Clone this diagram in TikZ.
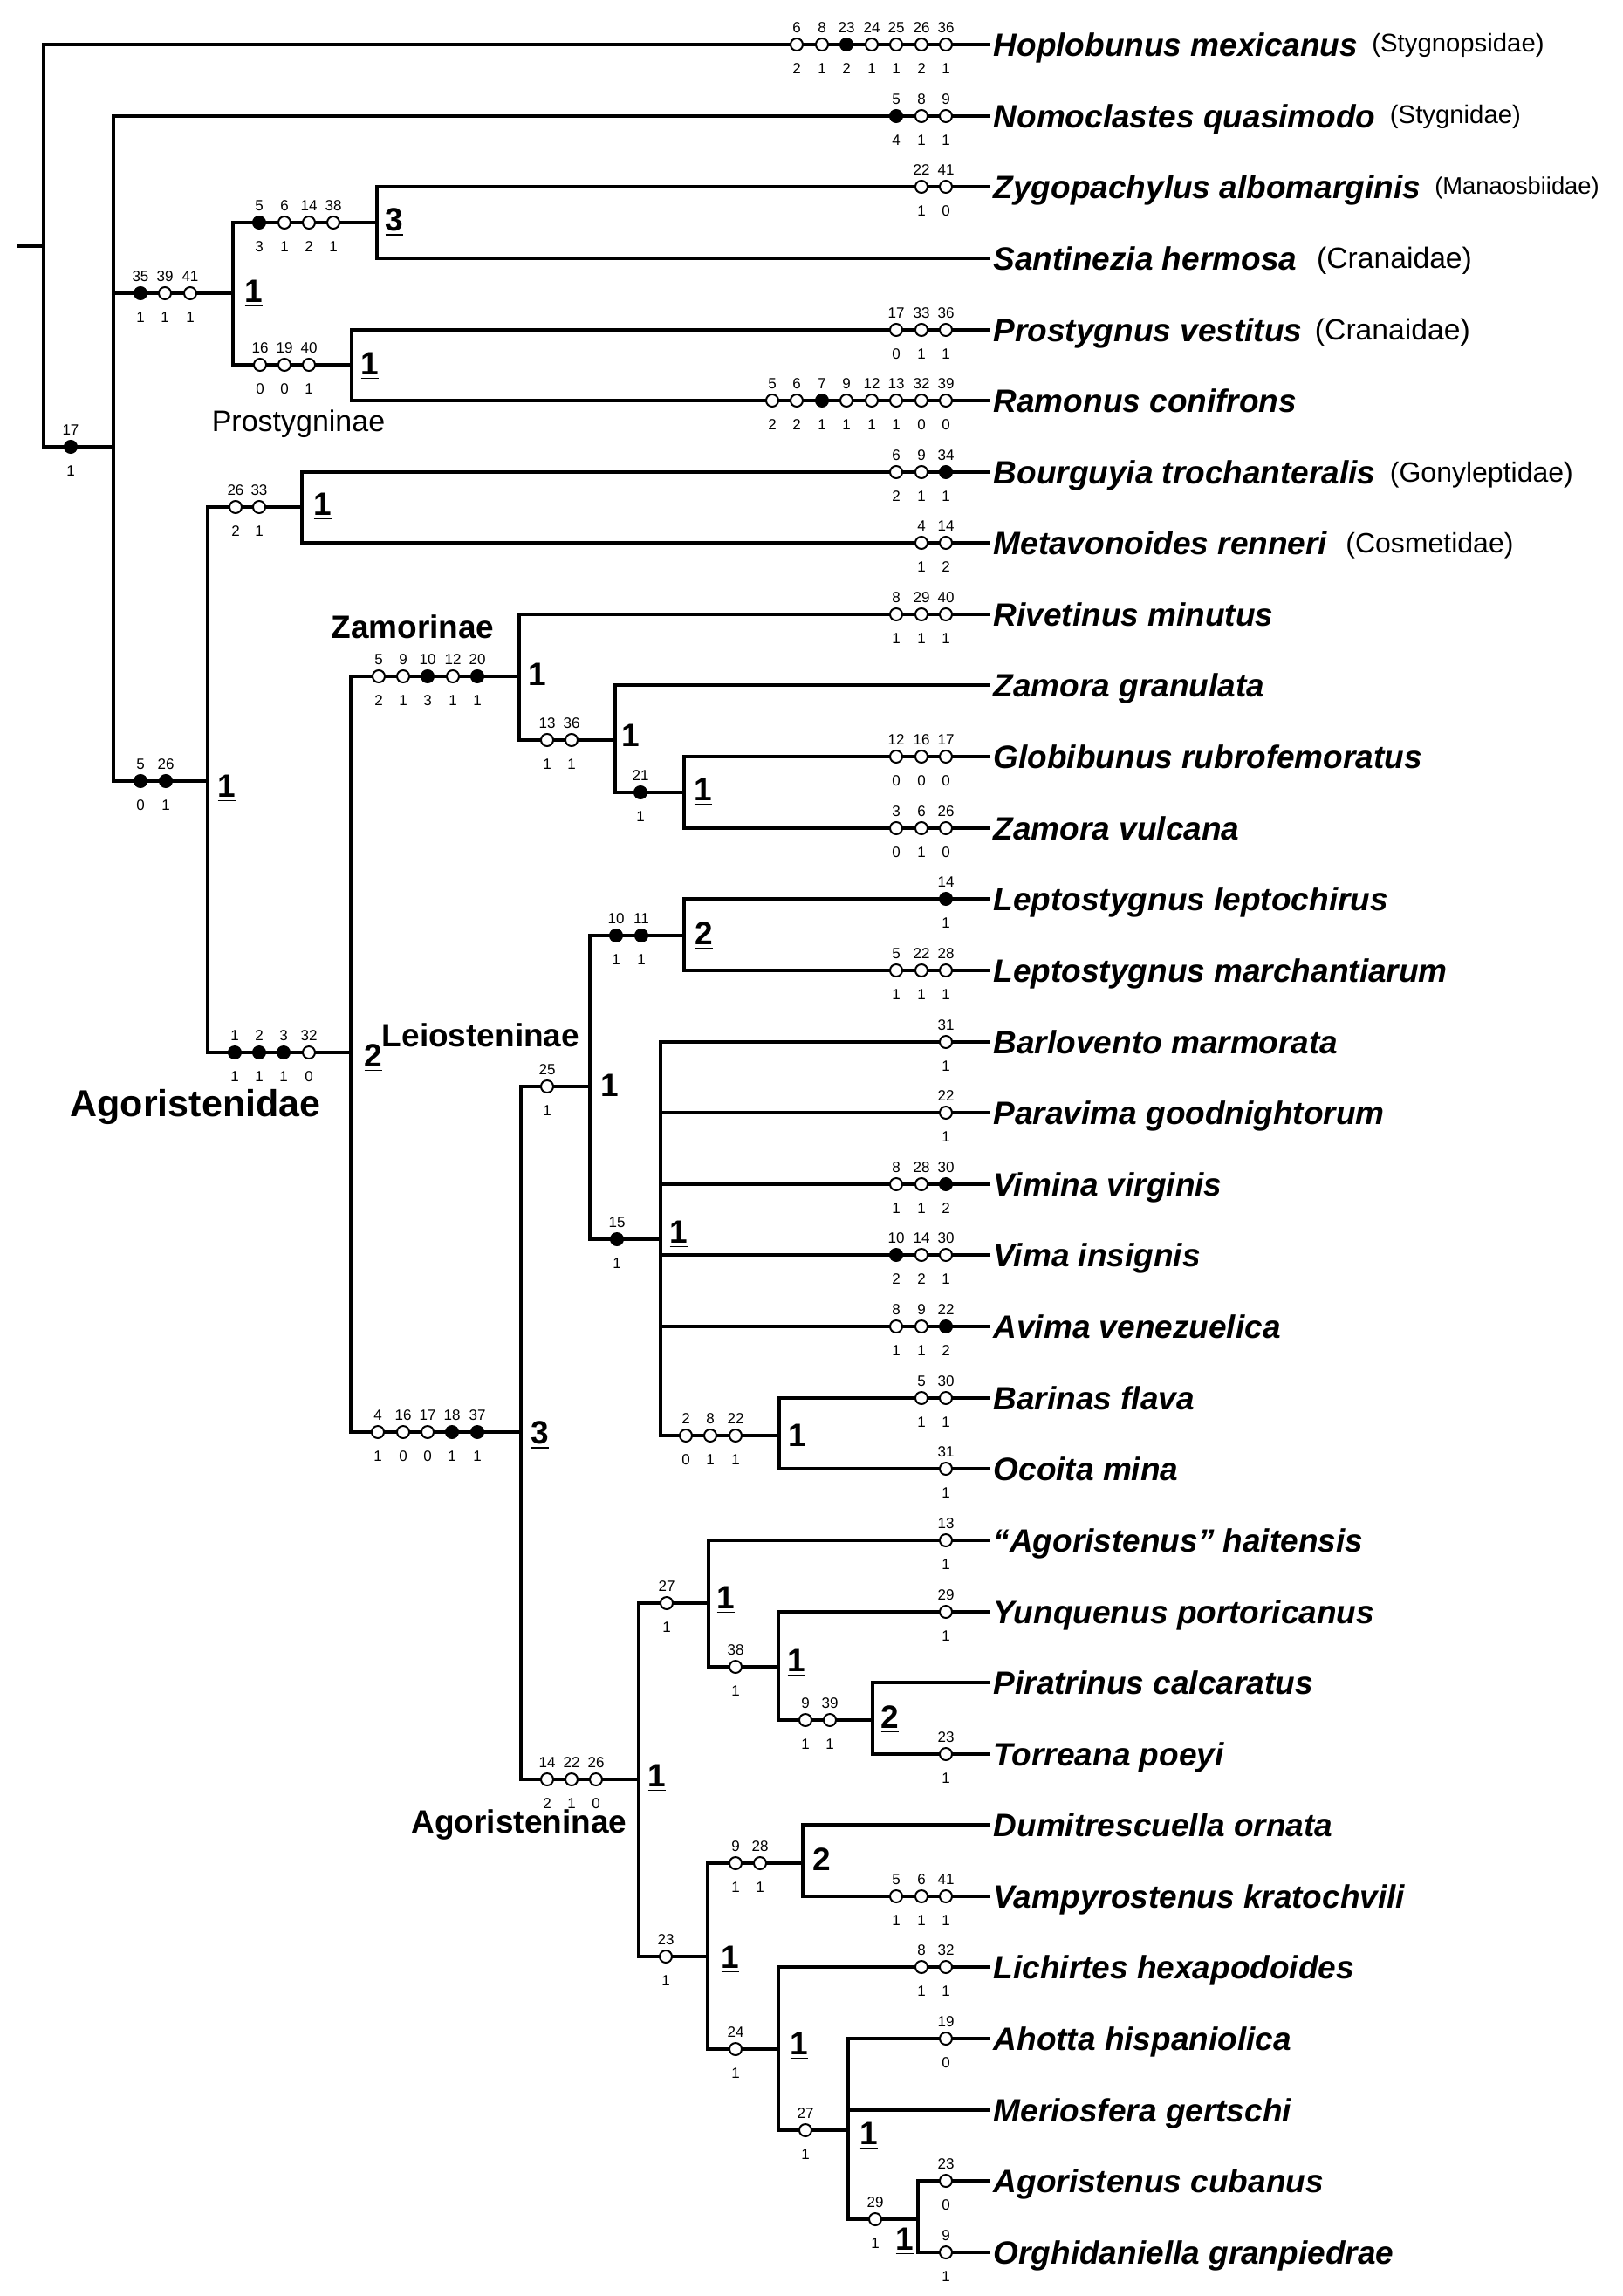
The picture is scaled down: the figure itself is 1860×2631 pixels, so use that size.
\documentclass[tikz,border=0pt]{standalone}
\usepackage{fontspec}
\setmainfont{Liberation Sans}
\usetikzlibrary{positioning}

\tikzset{
  branch/.style={line width=1pt, line cap=rect},
  opn/.style={circle, draw, line width=0.6pt, fill=white, inner sep=0pt, minimum size=4.2pt},
  shut/.style={opn, fill=black},
  chnum/.style={inner sep=0pt, font=\fontsize{5.1}{6}\selectfont},
  taxon/.style={anchor=west, inner xsep=1.5pt, inner ysep=0pt, text height=7.9pt, text depth=0pt,
    font=\fontsize{11.1}{13}\selectfont\bfseries\itshape},
  family/.style={inner sep=0pt, text height=6.9pt, text depth=0pt, font=\fontsize{9.6}{11}\selectfont},
  famsmall/.style={family, text height=6.4pt, yshift=0.8pt, font=\fontsize{8.8}{10}\selectfont},
  support/.style={anchor=base west, inner sep=0pt, font=\fontsize{11.1}{13}\selectfont\bfseries},
  clade/.style={inner sep=0pt, font=\fontsize{11.1}{13}\selectfont\bfseries},
}

% character change on a branch: x, y, character, state, open/shut
\newcommand{\apo}[5]{%
  \node[#5] (m#1-#2) at (#1,#2) {};
  \node[chnum, anchor=base] (m#1-#2u) at (#1,#2-14) {#3};
  \node[chnum, anchor=base] (m#1-#2d) at (#1,#2+33) {#4};
}

\begin{document}
\begin{tikzpicture}[x=0.3pt, y=-0.3pt]
    \useasboundingbox (0,0) rectangle (1860,2631);
    % Terminal taxa
    \node[taxon] (t1) at (1133,51) {Hoplobunus mexicanus};
    \node[taxon] (t2) at (1133,133) {Nomoclastes quasimodo};
    \node[taxon] (t3) at (1133,214) {Zygopachylus albomarginis};
    \node[taxon] (t4) at (1133,296) {Santinezia hermosa};
    \node[taxon] (t5) at (1133,378) {Prostygnus vestitus};
    \node[taxon] (t6) at (1133,459) {Ramonus conifrons};
    \node[taxon] (t7) at (1133,541) {Bourguyia trochanteralis};
    \node[taxon] (t8) at (1133,622) {Metavonoides renneri};
    \node[taxon] (t9) at (1133,704) {Rivetinus minutus};
    \node[taxon] (t10) at (1133,785) {Zamora granulata};
    \node[taxon] (t11) at (1133,867) {Globibunus rubrofemoratus};
    \node[taxon] (t12) at (1133,949) {Zamora vulcana};
    \node[taxon] (t13) at (1133,1030) {Leptostygnus leptochirus};
    \node[taxon] (t14) at (1133,1112) {Leptostygnus marchantiarum};
    \node[taxon] (t15) at (1133,1194) {Barlovento marmorata};
    \node[taxon] (t16) at (1133,1275) {Paravima goodnightorum};
    \node[taxon] (t17) at (1133,1357) {Vimina virginis};
    \node[taxon] (t18) at (1133,1438) {Vima insignis};
    \node[taxon] (t19) at (1133,1520) {Avima venezuelica};
    \node[taxon] (t20) at (1133,1602) {Barinas flava};
    \node[taxon] (t21) at (1133,1683) {Ocoita mina};
    \node[taxon] (t22) at (1133,1765) {“Agoristenus” haitensis};
    \node[taxon] (t23) at (1133,1847) {Yunquenus portoricanus};
    \node[taxon] (t24) at (1133,1928) {Piratrinus calcaratus};
    \node[taxon] (t25) at (1133,2010) {Torreana poeyi};
    \node[taxon] (t26) at (1133,2091) {Dumitrescuella ornata};
    \node[taxon] (t27) at (1133,2173) {Vampyrostenus kratochvili};
    \node[taxon] (t28) at (1133,2254) {Lichirtes hexapodoides};
    \node[taxon] (t29) at (1133,2336) {Ahotta hispaniolica};
    \node[taxon] (t30) at (1133,2418) {Meriosfera gertschi};
    \node[taxon] (t31) at (1133,2499) {Agoristenus cubanus};
    \node[taxon] (t32) at (1133,2581) {Orghidaniella granpiedrae};
    % Families of the outgroups
    \node[famsmall, right=3pt of t1] (f1) {(Stygnopsidae)};
    \node[famsmall, right=3pt of t2] (f2) {(Stygnidae)};
    \node[famsmall, right=3pt of t3, font=\fontsize{8.2}{10}\selectfont] (f3) {(Manaosbiidae)};
    \node[family, right=5pt of t4, font=\fontsize{10.1}{12}\selectfont] (f4) {(Cranaidae)};
    \node[family, right=2.5pt of t5, font=\fontsize{10.1}{12}\selectfont] (f5) {(Cranaidae)};
    \node[family, right=3pt of t7] (f7) {(Gonyleptidae)};
    \node[family, right=4.5pt of t8] (f8) {(Cosmetidae)};
    % Outgroup branches
    \draw[branch] (22,282) -- (50,282);
    \draw[branch] (t1) -| (50,512) -- (130,512);
    \draw[branch] (t2) -| (130,895) -- (238,895);
    \draw[branch] (130,336) -- (267,336);
    \draw[branch] (432,255) -| (267,418) -- (403,418);
    \draw[branch] (t3) -| (432,296) -- (t4);
    \draw[branch] (t5) -| (403,459) -- (t6);
    \draw[branch] (346,581) -| (238,1206) -- (402,1206);
    \draw[branch] (t7) -| (346,622) -- (t8);
    % Agoristenidae
    \draw[branch] (595,775) -| (402,1641) -- (597,1641);
    \draw[branch] (t9) -| (595,848) -- (705,848);
    \draw[branch] (t10) -| (705,908) -- (784,908);
    \draw[branch] (t11) -| (784,949) -- (t12);
    \draw[branch] (676,1245) -| (597,2039) -- (732,2039);
    \draw[branch] (784,1072) -| (676,1420) -- (757,1420);
    \draw[branch] (t13) -| (784,1112) -- (t14);
    \draw[branch] (t15) -| (757,1645) -- (893,1645);
    \draw[branch] (757,1275) -- (t16);
    \draw[branch] (757,1357) -- (t17);
    \draw[branch] (757,1438) -- (t18);
    \draw[branch] (757,1520) -- (t19);
    \draw[branch] (t20) -| (893,1683) -- (t21);
    \draw[branch] (812,1837) -| (732,2242) -- (811,2242);
    \draw[branch] (t22) -| (812,1910) -- (892,1910);
    \draw[branch] (t23) -| (892,1971) -- (1000,1971);
    \draw[branch] (t24) -| (1000,2010) -- (t25);
    \draw[branch] (920,2135) -| (811,2348) -- (892,2348);
    \draw[branch] (t26) -| (920,2173) -- (t27);
    \draw[branch] (t28) -| (892,2441) -- (972,2441);
    \draw[branch] (t29) -| (972,2543) -- (1052,2543);
    \draw[branch] (972,2418) -- (t30);
    \draw[branch] (t31) -| (1052,2581) -- (t32);
    % Changes on terminal branches
    \apo{913}{51}{6}{2}{opn} \apo{942}{51}{8}{1}{opn} \apo{970}{51}{23}{2}{shut} \apo{999}{51}{24}{1}{opn}
    \apo{1027}{51}{25}{1}{opn} \apo{1056}{51}{26}{2}{opn} \apo{1084}{51}{36}{1}{opn}
    \apo{1027}{133}{5}{4}{shut} \apo{1056}{133}{8}{1}{opn} \apo{1084}{133}{9}{1}{opn}
    \apo{1056}{214}{22}{1}{opn} \apo{1084}{214}{41}{0}{opn}
    \apo{1027}{378}{17}{0}{opn} \apo{1056}{378}{33}{1}{opn} \apo{1084}{378}{36}{1}{opn}
    \apo{885}{459}{5}{2}{opn} \apo{913}{459}{6}{2}{opn} \apo{942}{459}{7}{1}{shut} \apo{970}{459}{9}{1}{opn}
    \apo{999}{459}{12}{1}{opn} \apo{1027}{459}{13}{1}{opn} \apo{1056}{459}{32}{0}{opn} \apo{1084}{459}{39}{0}{opn}
    \apo{1027}{541}{6}{2}{opn} \apo{1056}{541}{9}{1}{opn} \apo{1084}{541}{34}{1}{shut}
    \apo{1056}{622}{4}{1}{opn} \apo{1084}{622}{14}{2}{opn}
    \apo{1027}{704}{8}{1}{opn} \apo{1056}{704}{29}{1}{opn} \apo{1084}{704}{40}{1}{opn}
    \apo{1027}{867}{12}{0}{opn} \apo{1056}{867}{16}{0}{opn} \apo{1084}{867}{17}{0}{opn}
    \apo{1027}{949}{3}{0}{opn} \apo{1056}{949}{6}{1}{opn} \apo{1084}{949}{26}{0}{opn}
    \apo{1084}{1030}{14}{1}{shut}
    \apo{1027}{1112}{5}{1}{opn} \apo{1056}{1112}{22}{1}{opn} \apo{1084}{1112}{28}{1}{opn}
    \apo{1084}{1194}{31}{1}{opn}
    \apo{1084}{1275}{22}{1}{opn}
    \apo{1027}{1357}{8}{1}{opn} \apo{1056}{1357}{28}{1}{opn} \apo{1084}{1357}{30}{2}{shut}
    \apo{1027}{1438}{10}{2}{shut} \apo{1056}{1438}{14}{2}{opn} \apo{1084}{1438}{30}{1}{opn}
    \apo{1027}{1520}{8}{1}{opn} \apo{1056}{1520}{9}{1}{opn} \apo{1084}{1520}{22}{2}{shut}
    \apo{1056}{1602}{5}{1}{opn} \apo{1084}{1602}{30}{1}{opn}
    \apo{1084}{1683}{31}{1}{opn}
    \apo{1084}{1765}{13}{1}{opn}
    \apo{1084}{1847}{29}{1}{opn}
    \apo{1084}{2010}{23}{1}{opn}
    \apo{1027}{2173}{5}{1}{opn} \apo{1056}{2173}{6}{1}{opn} \apo{1084}{2173}{41}{1}{opn}
    \apo{1056}{2254}{8}{1}{opn} \apo{1084}{2254}{32}{1}{opn}
    \apo{1084}{2336}{19}{0}{opn}
    \apo{1084}{2499}{23}{0}{opn}
    \apo{1084}{2581}{9}{1}{opn}
    % Changes on internal branches
    \apo{81}{512}{17}{1}{shut}
    \apo{161}{336}{35}{1}{shut} \apo{189}{336}{39}{1}{opn} \apo{218}{336}{41}{1}{opn}
    \apo{297}{255}{5}{3}{shut} \apo{326}{255}{6}{1}{opn} \apo{354}{255}{14}{2}{opn} \apo{382}{255}{38}{1}{opn}
    \apo{298}{418}{16}{0}{opn} \apo{326}{418}{19}{0}{opn} \apo{354}{418}{40}{1}{opn}
    \apo{161}{895}{5}{0}{shut} \apo{190}{895}{26}{1}{shut}
    \apo{270}{581}{26}{2}{opn} \apo{297}{581}{33}{1}{opn}
    \apo{269}{1206}{1}{1}{shut} \apo{297}{1206}{2}{1}{shut} \apo{325}{1206}{3}{1}{shut} \apo{354}{1206}{32}{0}{opn}
    \apo{434}{775}{5}{2}{opn} \apo{462}{775}{9}{1}{opn} \apo{490}{775}{10}{3}{shut} \apo{519}{775}{12}{1}{opn} \apo{547}{775}{20}{1}{shut}
    \apo{627}{848}{13}{1}{opn} \apo{655}{848}{36}{1}{opn}
    \apo{734}{908}{21}{1}{shut}
    \apo{433}{1641}{4}{1}{opn} \apo{462}{1641}{16}{0}{opn} \apo{490}{1641}{17}{0}{opn} \apo{518}{1641}{18}{1}{shut} \apo{547}{1641}{37}{1}{shut}
    \apo{627}{1245}{25}{1}{opn}
    \apo{706}{1072}{10}{1}{shut} \apo{735}{1072}{11}{1}{shut}
    \apo{707}{1420}{15}{1}{shut}
    \apo{786}{1645}{2}{0}{opn} \apo{814}{1645}{8}{1}{opn} \apo{843}{1645}{22}{1}{opn}
    \apo{627}{2039}{14}{2}{opn} \apo{655}{2039}{22}{1}{opn} \apo{683}{2039}{26}{0}{opn}
    \apo{764}{1837}{27}{1}{opn}
    \apo{843}{1910}{38}{1}{opn}
    \apo{923}{1971}{9}{1}{opn} \apo{951}{1971}{39}{1}{opn}
    \apo{763}{2242}{23}{1}{opn}
    \apo{843}{2135}{9}{1}{opn} \apo{871}{2135}{28}{1}{opn}
    \apo{843}{2348}{24}{1}{opn}
    \apo{923}{2441}{27}{1}{opn}
    \apo{1003}{2543}{29}{1}{opn}
    % Bremer support
    \node[support] (s1) at (280,346) {\underline{1}};
    \node[support] (s2) at (441,264) {\underline{3}};
    \node[support] (s3) at (413,429) {\underline{1}};
    \node[support] (s4) at (359,590) {\underline{1}};
    \node[support] (s5) at (249,913) {\underline{1}};
    \node[support] (s6) at (417,1222) {\underline{2}};
    \node[support] (s7) at (605,785) {\underline{1}};
    \node[support] (s8) at (712,855) {\underline{1}};
    \node[support] (s9) at (795,917) {\underline{1}};
    \node[support] (s10) at (608,1654) {\underline{3}};
    \node[support] (s11) at (688,1256) {\underline{1}};
    \node[support] (s12) at (796,1082) {\underline{2}};
    \node[support] (s13) at (767,1424) {\underline{1}};
    \node[support] (s14) at (903,1657) {\underline{1}};
    \node[support] (s15) at (742,2047) {\underline{1}};
    \node[support] (s16) at (821,1843) {\underline{1}};
    \node[support] (s17) at (902,1915) {\underline{1}};
    \node[support] (s18) at (1009,1980) {\underline{2}};
    \node[support] (s19) at (826,2255) {\underline{1}};
    \node[support] (s20) at (931,2143) {\underline{2}};
    \node[support] (s21) at (905,2354) {\underline{1}};
    \node[support] (s22) at (985,2457) {\underline{1}};
    \node[support] (s23) at (1026,2578) {\underline{1}};
    % Group names
    \node[inner sep=0pt, font=\fontsize{10.2}{12}\selectfont] (prost) at (342,486) {Prostygninae};
    \node[clade] (zamo) at (473,718) {Zamorinae};
    \node[clade] (leio) at (551,1186) {Leiosteninae};
    \node[clade, font=\fontsize{12.9}{15}\selectfont\bfseries] (agfam) at (224,1268) {Agoristenidae};
    \node[clade] (agsub) at (595,2091) {Agoristeninae};
\end{tikzpicture}
\end{document}
